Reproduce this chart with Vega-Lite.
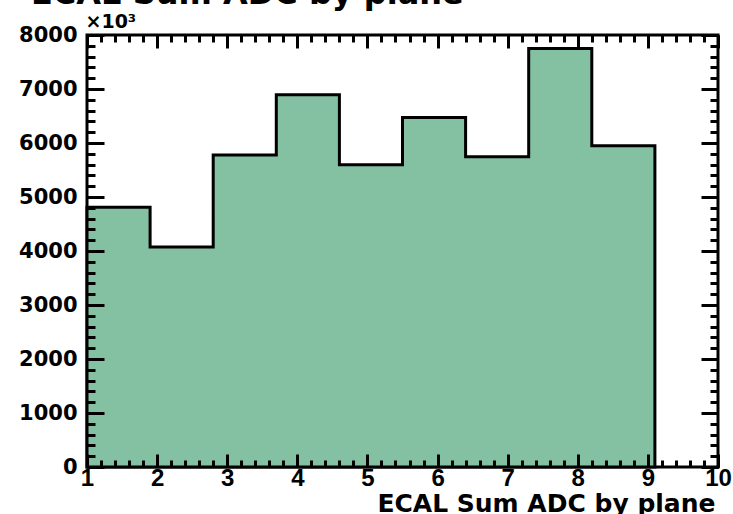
{
  "$schema": "https://vega.github.io/schema/vega-lite/v6.json",
  "autosize": "none",
  "width": 631,
  "height": 432,
  "padding": {"left": 87, "top": 35, "right": 15, "bottom": 47},
  "background": "white",
  "config": {
    "view": {"stroke": "black", "strokeWidth": 3},
    "axis": {"grid": false, "domain": false, "tickColor": "black", "tickWidth": 3, "labelColor": "black", "titleColor": "black"}
  },
  "title": {
    "text": "ECAL Sum ADC by plane",
    "anchor": "start",
    "frame": "group",
    "font": "DejaVu Sans",
    "fontWeight": "bold",
    "fontSize": 32,
    "color": "black",
    "baseline": "alphabetic",
    "offset": 0,
    "dy": 24,
    "dx": -56
  },
  "data": {
    "values": [
      {"plane": 1, "start": 1.0, "end": 1.9, "value": 4810},
      {"plane": 2, "start": 1.9, "end": 2.8, "value": 4075},
      {"plane": 3, "start": 2.8, "end": 3.7, "value": 5780},
      {"plane": 4, "start": 3.7, "end": 4.6, "value": 6894},
      {"plane": 5, "start": 4.6, "end": 5.5, "value": 5596},
      {"plane": 6, "start": 5.5, "end": 6.4, "value": 6471},
      {"plane": 7, "start": 6.4, "end": 7.3, "value": 5745},
      {"plane": 8, "start": 7.3, "end": 8.2, "value": 7750},
      {"plane": 9, "start": 8.2, "end": 9.1, "value": 5950}
    ]
  },
  "resolve": {"axis": {"x": "independent", "y": "independent"}},
  "layer": [
    {
      "transform": [{"fold": ["start", "end"], "as": ["edge", "xpos"]}],
      "mark": {"type": "area", "fill": "#84c1a3", "stroke": "black", "strokeWidth": 3, "strokeJoin": "miter", "interpolate": "linear"},
      "encoding": {
        "x": {"field": "xpos", "type": "quantitative", "scale": {"domain": [1, 10], "nice": false, "zero": false},
          "axis": {"orient": "bottom", "ticks": false, "values": [1,2,3,4,5,6,7,8,9,10], "labelFont": "Liberation Sans", "labelFontWeight": "bold", "labelFontSize": 24, "labelPadding": -1, "labelFlush": false,
            "title": "ECAL Sum ADC by plane", "titleFont": "DejaVu Sans", "titleFontWeight": "bold", "titleFontSize": 25, "titleAnchor": "end", "titleAlign": "right", "titleBaseline": "alphabetic", "titleX": 628, "titleY": 44}},
        "y": {"field": "value", "type": "quantitative", "stack": null, "scale": {"domain": [0, 8000], "nice": false},
          "axis": {"orient": "left", "ticks": false, "values": [0,1000,2000,3000,4000,5000,6000,7000,8000], "format": "d", "labelFont": "DejaVu Sans", "labelFontWeight": "bold", "labelFontSize": 21, "labelPadding": 10, "labelFlush": false,
            "title": "×10³", "titleAngle": 0, "titleFont": "DejaVu Sans", "titleFontWeight": "bold", "titleFontSize": 19, "titleAlign": "left", "titleBaseline": "alphabetic", "titleX": -2, "titleY": -8}},
        "order": [{"field": "start", "type": "quantitative"}, {"field": "edge", "sort": "descending"}]
      }
    },
    {
      "mark": {"type": "point", "opacity": 0},
      "encoding": {
        "x": {"field": "start", "type": "quantitative", "axis": {"orient": "bottom", "zindex": 2, "labels": false, "title": null, "tickSize": 13, "offset": -13, "values": [1,2,3,4,5,6,7,8,9,10]}},
        "y": {"field": "value", "type": "quantitative", "axis": {"orient": "left", "zindex": 2, "labels": false, "title": null, "tickSize": 17, "offset": -17, "values": [0,1000,2000,3000,4000,5000,6000,7000,8000]}}
      }
    },
    {
      "mark": {"type": "point", "opacity": 0},
      "encoding": {
        "x": {"field": "start", "type": "quantitative", "axis": {"orient": "bottom", "zindex": 2, "labels": false, "title": null, "tickSize": 7, "offset": -7, "values": [1,1.2,1.4,1.6,1.8,2,2.2,2.4,2.6,2.8,3,3.2,3.4,3.6,3.8,4,4.2,4.4,4.6,4.8,5,5.2,5.4,5.6,5.8,6,6.2,6.4,6.6,6.8,7,7.2,7.4,7.6,7.8,8,8.2,8.4,8.6,8.8,9,9.2,9.4,9.6,9.8,10]}},
        "y": {"field": "value", "type": "quantitative", "axis": {"orient": "left", "zindex": 2, "labels": false, "title": null, "tickSize": 8, "offset": -8, "values": [0,200,400,600,800,1000,1200,1400,1600,1800,2000,2200,2400,2600,2800,3000,3200,3400,3600,3800,4000,4200,4400,4600,4800,5000,5200,5400,5600,5800,6000,6200,6400,6600,6800,7000,7200,7400,7600,7800,8000]}}
      }
    },
    {
      "mark": {"type": "point", "opacity": 0},
      "encoding": {
        "x": {"field": "start", "type": "quantitative", "axis": {"orient": "top", "zindex": 2, "labels": false, "title": null, "tickSize": 13, "offset": -13, "values": [1,2,3,4,5,6,7,8,9,10]}},
        "y": {"field": "value", "type": "quantitative", "axis": {"orient": "right", "zindex": 2, "labels": false, "title": null, "tickSize": 17, "offset": -17, "values": [0,1000,2000,3000,4000,5000,6000,7000,8000]}}
      }
    },
    {
      "mark": {"type": "point", "opacity": 0},
      "encoding": {
        "x": {"field": "start", "type": "quantitative", "axis": {"orient": "top", "zindex": 2, "labels": false, "title": null, "tickSize": 7, "offset": -7, "values": [1,1.2,1.4,1.6,1.8,2,2.2,2.4,2.6,2.8,3,3.2,3.4,3.6,3.8,4,4.2,4.4,4.6,4.8,5,5.2,5.4,5.6,5.8,6,6.2,6.4,6.6,6.8,7,7.2,7.4,7.6,7.8,8,8.2,8.4,8.6,8.8,9,9.2,9.4,9.6,9.8,10]}},
        "y": {"field": "value", "type": "quantitative", "axis": {"orient": "right", "zindex": 2, "labels": false, "title": null, "tickSize": 8, "offset": -8, "values": [0,200,400,600,800,1000,1200,1400,1600,1800,2000,2200,2400,2600,2800,3000,3200,3400,3600,3800,4000,4200,4400,4600,4800,5000,5200,5400,5600,5800,6000,6200,6400,6600,6800,7000,7200,7400,7600,7800,8000]}}
      }
    }
  ]
}
